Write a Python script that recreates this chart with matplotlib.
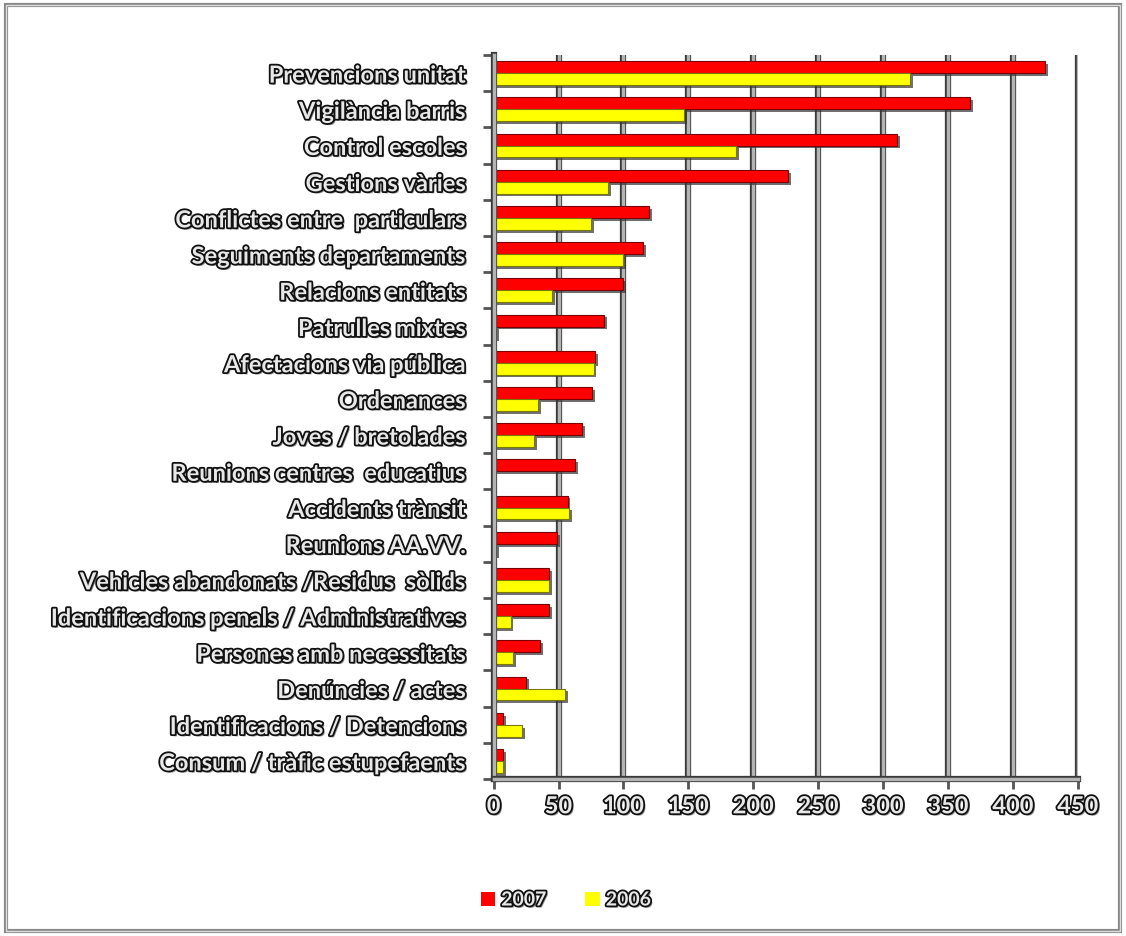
import matplotlib
matplotlib.use("Agg")
import matplotlib.pyplot as plt
import matplotlib.patheffects as pe
from matplotlib.patches import Rectangle
import numpy as np

# categories, top to bottom
categories = [
    "Prevencions unitat", "Vigilància barris", "Control escoles", "Gestions vàries",
    "Conflictes entre  particulars", "Seguiments departaments", "Relacions entitats",
    "Patrulles mixtes", "Afectacions via pública", "Ordenances", "Joves / bretolades",
    "Reunions centres  educatius", "Accidents trànsit", "Reunions AA.VV.",
    "Vehicles abandonats /Residus  sòlids", "Identificacions penals / Administratives",
    "Persones amb necessitats", "Denúncies / actes", "Identificacions / Detencions",
    "Consum / tràfic estupefaents",
]
vals_2007 = [425, 367, 311, 227, 120, 115, 100, 85, 78, 76, 68, 63, 57, 49, 43, 43, 36, 25, 7, 7]
vals_2006 = [321, 147, 187, 88, 75, 100, 45, 2, 77, 34, 31, 0, 58, 2, 43, 13, 15, 55, 22, 7]
xticks = [0, 50, 100, 150, 200, 250, 300, 350, 400, 450]

txt_fx = [pe.SimplePatchShadow(offset=(1.5, -1.5), shadow_rgbFace="#777777", alpha=0.8),
          pe.Stroke(linewidth=2.6, foreground="#111111"), pe.Normal()]
line_fx = [pe.Stroke(linewidth=4.5, foreground="#3a3a3a"), pe.Normal()]
bar_fx = [pe.SimplePatchShadow(offset=(2, -2), shadow_rgbFace="#333333", alpha=0.7), pe.Normal()]

fig = plt.figure(figsize=(11.26, 9.36), dpi=100)
fig.patch.set_facecolor("white")

# outer frame
fig.patches.append(Rectangle((0.005, 0.005), 0.99, 0.99, transform=fig.transFigure,
                             fill=False, edgecolor="#888888", linewidth=3))
fig.patches.append(Rectangle((0.005, 0.005), 0.99, 0.99, transform=fig.transFigure,
                             fill=False, edgecolor="#dddddd", linewidth=1))

ax = fig.add_axes([0.4384, 0.1677, 0.5188, 0.7735])
y = np.arange(len(categories))
h = 0.33
ax.barh(y - h / 2, vals_2007, height=h, color="#ff0000", edgecolor="#7a0000",
        linewidth=0.8, label="2007", path_effects=bar_fx, zorder=3)
ax.barh(y + h / 2, vals_2006, height=h, color="#ffff00", edgecolor="#7a7a00",
        linewidth=0.8, label="2006", path_effects=bar_fx, zorder=3)

ax.set_xlim(0, 450)
ax.set_ylim(len(categories) - 0.5, -0.5)

# gridlines (3D-ish double lines)
for xv in xticks[1:]:
    ax.axvline(xv, color="#b4b4b4", linewidth=2.5, path_effects=line_fx, zorder=1)

for s in ["top", "right"]:
    ax.spines[s].set_visible(False)
for s in ["left", "bottom"]:
    ax.spines[s].set_color("#b4b4b4")
    ax.spines[s].set_linewidth(2.5)
    ax.spines[s].set_path_effects(line_fx)
    ax.spines[s].set_zorder(4)

ax.set_yticks(y)
ax.set_yticklabels(categories)
ax.set_yticks(np.arange(-0.5, len(categories) + 0.5), minor=True)
ax.tick_params(axis="y", which="major", length=0, pad=20)
ax.tick_params(axis="y", which="minor", length=8, width=2, color="#555555")
ax.set_xticks(xticks)
ax.tick_params(axis="x", length=7, width=2, color="#555555", pad=4)

for lab in ax.get_yticklabels() + ax.get_xticklabels():
    lab.set_fontfamily("Lato")
    lab.set_fontweight("bold")
    lab.set_fontsize(17)
    lab.set_color("#e8e8e8")
    lab.set_path_effects(txt_fx)

leg = fig.legend(loc="center", bbox_to_anchor=(566 / 1126, 1 - 900 / 936), ncol=2,
                 frameon=False, handlelength=0.75, handleheight=0.75, handletextpad=0.3,
                 columnspacing=2.0, prop={"family": "Lato", "weight": "bold", "size": 14})
for t in leg.get_texts():
    t.set_color("#e8e8e8")
    t.set_path_effects(txt_fx)
for p in leg.get_patches():
    p.set_edgecolor("none")
    p.set_path_effects([])

fig.savefig("out.png", dpi=100)
